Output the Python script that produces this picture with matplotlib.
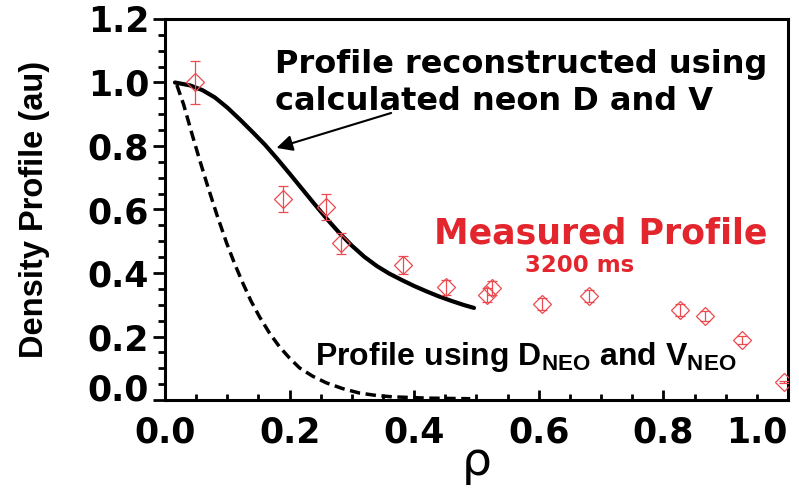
import matplotlib
matplotlib.use('Agg')
import matplotlib.pyplot as plt
from matplotlib.ticker import MultipleLocator, FixedLocator

# ---- data ----
rho_meas = [0.048, 0.189, 0.259, 0.283, 0.382, 0.451, 0.517, 0.525, 0.605, 0.680, 0.826, 0.867, 0.926, 0.994]
dens_meas = [1.000, 0.633, 0.608, 0.494, 0.425, 0.355, 0.331, 0.353, 0.302, 0.328, 0.283, 0.264, 0.189, 0.057]
dens_err = [0.067, 0.042, 0.041, 0.033, 0.028, 0.024, 0.022, 0.023, 0.020, 0.020, 0.019, 0.015, 0.012, 0.004]

rho_calc = [0.016, 0.040, 0.060, 0.080, 0.100, 0.120, 0.140, 0.160, 0.180, 0.200, 0.220, 0.240,
            0.260, 0.280, 0.300, 0.320, 0.340, 0.360, 0.380, 0.400, 0.420, 0.440, 0.460, 0.480, 0.496]
dens_calc = [1.000, 0.991, 0.976, 0.953, 0.921, 0.884, 0.845, 0.805, 0.760, 0.713, 0.665, 0.617,
             0.570, 0.526, 0.486, 0.451, 0.422, 0.398, 0.378, 0.359, 0.342, 0.326, 0.312, 0.299, 0.290]

rho_neo = [0.019, 0.030, 0.043, 0.055, 0.067, 0.083, 0.099, 0.112, 0.125, 0.138, 0.152, 0.168,
           0.184, 0.200, 0.216, 0.237, 0.259, 0.285, 0.312, 0.340, 0.365, 0.420, 0.490]
dens_neo = [0.992, 0.930, 0.840, 0.760, 0.683, 0.585, 0.494, 0.428, 0.368, 0.312, 0.261, 0.210,
            0.167, 0.132, 0.101, 0.075, 0.054, 0.036, 0.022, 0.014, 0.010, 0.006, 0.004]

xticks = [0.0, 0.2, 0.4, 0.6, 0.8, 1.0]
yticks = [0.0, 0.2, 0.4, 0.6, 0.8, 1.0, 1.2]
xticklabels = ['0.0', '0.2', '0.4', '0.6', '0.8', '1.0']
yticklabels = ['0.0', '0.2', '0.4', '0.6', '0.8', '1.0', '1.2']

RED = '#e3262e'
MRED = '#ea4a50'

plt.rcParams['mathtext.fontset'] = 'custom'
plt.rcParams['mathtext.rm'] = 'Liberation Sans:bold'
plt.rcParams['mathtext.bf'] = 'Liberation Sans:bold'

fig = plt.figure(figsize=(7.99, 4.90), dpi=100)
ax = fig.add_axes([165/799, 1-400/490, (788-165)/799, (400-19)/490])

ax.plot(rho_calc, dens_calc, color='black', lw=3.0, solid_capstyle='round', zorder=3)
ax.plot(rho_neo, dens_neo, color='black', lw=2.5, dashes=(3.0, 1.6), zorder=3)
ax.errorbar(rho_meas, dens_meas, yerr=dens_err, fmt='D', mfc='none', mec=MRED, ms=9,
            mew=0.9, ecolor=MRED, elinewidth=0.9, capsize=3.6, capthick=0.9, zorder=4)

ax.set_xlim(0, 1.0)
ax.set_ylim(0, 1.2)
ax.xaxis.set_major_locator(FixedLocator(xticks))
ax.yaxis.set_major_locator(FixedLocator(yticks))
ax.xaxis.set_minor_locator(MultipleLocator(0.05))
ax.yaxis.set_minor_locator(MultipleLocator(0.05))
ax.set_xticklabels(xticklabels, fontfamily='DejaVu Sans', fontweight='bold', fontsize=25)
ax.set_yticklabels(yticklabels, fontfamily='DejaVu Sans', fontweight='bold', fontsize=25)

ax.tick_params(axis='x', which='major', direction='in', length=7, width=2, pad=11)
ax.tick_params(axis='x', which='minor', direction='in', length=4, width=2)
ax.tick_params(axis='y', which='major', direction='out', length=8.5, width=2, pad=3)
ax.tick_params(axis='y', which='minor', direction='out', length=5, width=2)
for s in ax.spines.values():
    s.set_linewidth(2.2)

ax.get_xticklabels()[-1].set_ha('right')
ax.get_yticklabels()[0].set_va('baseline')

ax.set_ylabel('Density Profile (au)', fontfamily='Liberation Sans', fontweight='bold', fontsize=23.5)
ax.yaxis.set_label_coords(-0.185, 0.5)
ax.set_xlabel('ρ', fontfamily='DejaVu Sans', fontsize=34, labelpad=-7)

# annotations
ax.text(0.176, 1.03, 'Profile reconstructed using', fontfamily='DejaVu Sans', fontweight='bold',
        fontsize=23, ha='left', va='baseline')
ax.text(0.176, 0.913, 'calculated neon D and V', fontfamily='DejaVu Sans', fontweight='bold',
        fontsize=23, ha='left', va='baseline')
ax.annotate('', xy=(0.179, 0.794), xytext=(0.363, 0.904),
            arrowprops=dict(arrowstyle='-|>', color='black', lw=1.5, mutation_scale=24,
                            shrinkA=0, shrinkB=0))
ax.text(0.700, 0.494, 'Measured Profile', color=RED, fontfamily='DejaVu Sans', fontweight='bold',
        fontsize=25, ha='center', va='baseline')
ax.text(0.666, 0.403, '3200 ms', color=RED, fontfamily='DejaVu Sans', fontweight='bold',
        fontsize=16.5, ha='center', va='baseline')
ax.text(0.24, 0.110, r'Profile using D$_{\mathbf{NEO}}$ and V$_{\mathbf{NEO}}$',
        fontfamily='Liberation Sans', fontweight='bold', fontsize=23, ha='left', va='baseline')

fig.savefig('out.png', dpi=100)
